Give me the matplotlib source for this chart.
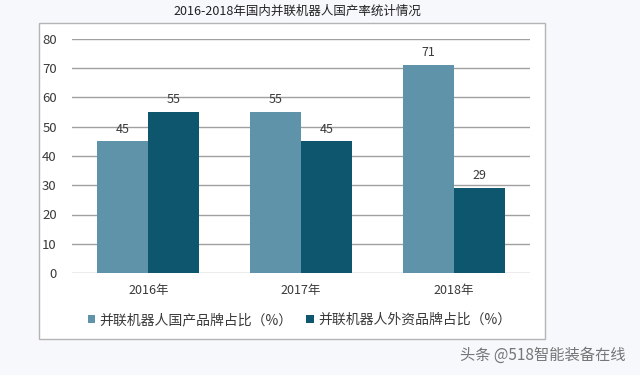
"""Bar chart: 2016-2018 domestic parallel robot share."""

import numpy as np
import matplotlib
matplotlib.use("Agg")
import matplotlib.pyplot as plt
from matplotlib.patches import Rectangle, Patch

plt.rcParams['font.family'] = ['Noto Sans CJK SC', 'DejaVu Sans']

# data
years = ['2016年', '2017年', '2018年']
domestic = [45, 55, 71]
foreign = [55, 45, 29]
series_names = ['并联机器人国产品牌占比（%）', '并联机器人外资品牌占比（%）']
y_ticks = [0, 10, 20, 30, 40, 50, 60, 70, 80]
title = '2016-2018年国内并联机器人国产率统计情况'
watermark = '头条 @518智能装备在线'

c_dom = '#5e93aa'
c_for = '#0d566e'
txt = '#3a3a3a'

fig = plt.figure(figsize=(6.4, 3.75), dpi=100)
fig.patch.set_facecolor('#f6f8fb')

# white chart box (behind the axes)
box = Rectangle((39 / 640, 36 / 375), (545 - 39) / 640, (352 - 36) / 375,
                transform=fig.transFigure, facecolor='white',
                edgecolor='#b4b4b4', linewidth=1.0, zorder=-5)
fig.patches.append(box)

fig.text(297 / 640, 1 - 11 / 375, title, ha='center', va='center',
         fontsize=9, color='#222222')

ax = fig.add_axes([72 / 640, 102 / 375, (530 - 72) / 640, (336 - 102) / 375])
ax.set_zorder(2)
ax.set_facecolor('none')

x = np.arange(len(years))
w = 0.334
b1 = ax.bar(x - w / 2, domestic, w, color=c_dom, zorder=3)
b2 = ax.bar(x + w / 2, foreign, w, color=c_for, zorder=3)

for bars, vals in ((b1, domestic), (b2, foreign)):
    for rect, v in zip(bars, vals):
        ax.text(rect.get_x() + rect.get_width() / 2, v + 2.0, str(v),
                ha='center', va='bottom', fontsize=9, color=txt)

ax.set_xlim(-0.5, 2.5)
ax.set_ylim(0, 80)
ax.set_yticks(y_ticks)
ax.set_xticks(x)
ax.set_xticklabels(years)
ax.grid(axis='y', color='#a0a0a0', linewidth=1.0, zorder=0)
ax.tick_params(axis='y', length=0, pad=11, labelsize=9.5, labelcolor=txt)
ax.tick_params(axis='x', length=0, pad=8, labelsize=9, labelcolor=txt)
for s in ax.spines.values():
    s.set_visible(False)

handles = [Patch(facecolor=c_dom), Patch(facecolor=c_for)]
fig.legend(handles, series_names, loc='center left',
           bbox_to_anchor=(75 / 640, 55 / 375), ncol=2, frameon=False,
           fontsize=10, handlelength=0.55, handleheight=0.55, handletextpad=0.3,
           columnspacing=1.0, labelcolor=txt)

fig.text(625 / 640, 20 / 375, watermark, ha='right', va='center',
         fontsize=11, color='#555555', alpha=0.8)

fig.savefig('out.png', dpi=100, facecolor=fig.get_facecolor())
